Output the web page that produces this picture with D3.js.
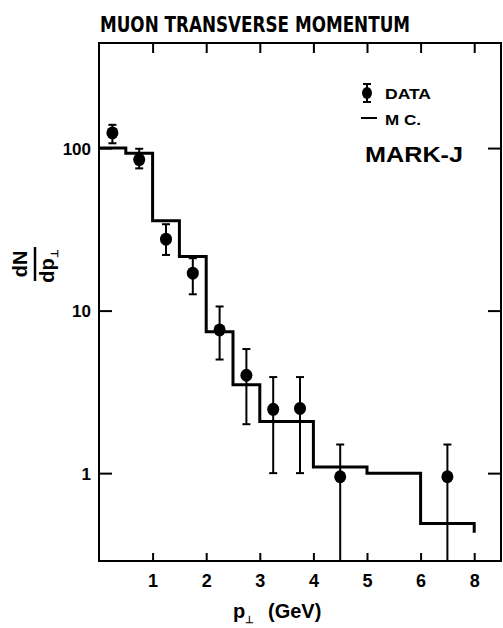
<!DOCTYPE html>
<html><head><meta charset="utf-8">
<script src="https://cdn.jsdelivr.net/npm/d3@7"></script>
<style>
html,body{margin:0;padding:0;background:#fff;}
svg{display:block;}
text{fill:#000;}
</style></head>
<body>
<script>
// ---- data (pT in GeV, real values; axis is compressed between 6 and 8) ----
const dataX    = [0.25, 0.75, 1.25, 1.75, 2.25, 2.75, 3.25, 3.75, 4.5, 7.0];
const dataY    = [124, 85, 27.5, 17, 7.6, 4.0, 2.47, 2.5, 0.95, 0.95];
const errHigh  = [139, 99, 34, 21, 10.6, 5.8, 3.9, 3.9, 1.5, 1.5];
const errLow   = [107, 75, 22, 12.6, 5.0, 2.0, 1.0, 1.0, 0, 0];   // 0 = runs to axis
const mcEdges  = [0, 0.5, 1, 1.5, 2, 2.5, 3, 4, 5, 6, 8];
const mcValues = [100, 93, 35.7, 21.5, 7.4, 3.5, 2.08, 1.09, 1.0, 0.49];
const mcTail   = 0.43;
const xTickValues = [1, 2, 3, 4, 5, 6, 8];
const xTickLabels = ["1", "2", "3", "4", "5", "6", "8"];
const yTickValues = [1, 10, 100];
const yTickLabels = ["1", "10", "100"];

const W = 503, H = 628;
const L = 99, R = 501, T = 43, B = 561;
const unit = (R - L) / 7.5;

const svg = d3.select("body").append("svg").attr("width", W).attr("height", H);

const x = d3.scaleLinear().domain([0, 6, 9]).range([L, L + 6 * unit, R]);
const y = d3.scaleLog().domain([0.288, 443]).range([B, T]);

const font = "'Liberation Sans', Arial, sans-serif";

// title
svg.append("text").attr("x", 100).attr("y", 32)
  .attr("font-family", "'DejaVu Sans Condensed','DejaVu Sans',sans-serif")
  .attr("font-weight", "bold").attr("font-size", 22)
  .attr("textLength", 310).attr("lengthAdjust", "spacingAndGlyphs")
  .text("MUON TRANSVERSE MOMENTUM");

// axes
const axB = d3.axisBottom(x).tickValues(xTickValues).tickFormat((d, i) => xTickLabels[i]).tickSize(-8).tickPadding(13);
const axT = d3.axisTop(x).tickValues(xTickValues).tickFormat("").tickSize(-10);
const axL = d3.axisLeft(y).tickValues(yTickValues).tickFormat((d, i) => yTickLabels[i]).tickSize(-13).tickPadding(8);
const axR = d3.axisRight(y).tickValues(yTickValues).tickFormat("").tickSize(-13);

function style(g) {
  g.select(".domain").remove();
  g.selectAll(".tick line").attr("stroke", "#000").attr("stroke-width", 2);
  g.selectAll(".tick text").attr("font-family", font).attr("font-weight", "bold").attr("fill", "#000");
}
svg.append("g").attr("transform", `translate(0,${B})`).call(axB).call(style)
  .selectAll(".tick text").attr("font-size", 18);
svg.append("g").attr("transform", `translate(0,${T})`).call(axT).call(style);
svg.append("g").attr("transform", `translate(${L},0)`).call(axL).call(style)
  .selectAll(".tick text").attr("font-size", 17).attr("dy", "0.36em");
svg.append("g").attr("transform", `translate(${R},0)`).call(axR).call(style);

// frame
svg.append("rect").attr("x", L).attr("y", T).attr("width", R - L).attr("height", B - T)
  .attr("fill", "none").attr("stroke", "#000").attr("stroke-width", 2);

// MC histogram
const pts = [];
mcValues.forEach((v, i) => { pts.push([x(mcEdges[i]), y(v)]); pts.push([x(mcEdges[i + 1]), y(v)]); });
pts.push([x(mcEdges[mcEdges.length - 1]), y(mcTail)]);
svg.append("path").attr("d", d3.line()(pts)).attr("fill", "none")
  .attr("stroke", "#000").attr("stroke-width", 3).attr("stroke-linejoin", "miter");

// data points
const yMin = y.domain()[0];
const g = svg.append("g");
dataX.forEach((xv, i) => {
  const cx = x(xv);
  const lo = errLow[i] > 0 ? y(errLow[i]) : y(yMin);
  const hi = y(errHigh[i]);
  g.append("line").attr("x1", cx).attr("x2", cx).attr("y1", hi).attr("y2", lo)
    .attr("stroke", "#000").attr("stroke-width", 2);
  g.append("line").attr("x1", cx - 4).attr("x2", cx + 4).attr("y1", hi).attr("y2", hi)
    .attr("stroke", "#000").attr("stroke-width", 2);
  if (errLow[i] > 0)
    g.append("line").attr("x1", cx - 4).attr("x2", cx + 4).attr("y1", lo).attr("y2", lo)
      .attr("stroke", "#000").attr("stroke-width", 2);
  g.append("ellipse").attr("cx", cx).attr("cy", y(dataY[i])).attr("rx", 6).attr("ry", 6.5).attr("fill", "#000");
});

// legend
const lg = svg.append("g");
lg.append("line").attr("x1", 367).attr("x2", 367).attr("y1", 84).attr("y2", 102).attr("stroke", "#000").attr("stroke-width", 2);
lg.append("line").attr("x1", 363).attr("x2", 371).attr("y1", 84).attr("y2", 84).attr("stroke", "#000").attr("stroke-width", 2);
lg.append("line").attr("x1", 363).attr("x2", 371).attr("y1", 102).attr("y2", 102).attr("stroke", "#000").attr("stroke-width", 2);
lg.append("ellipse").attr("cx", 367).attr("cy", 93).attr("rx", 5).attr("ry", 6).attr("fill", "#000");
lg.append("text").attr("x", 385).attr("y", 99).attr("font-family", font).attr("font-weight", "bold")
  .attr("font-size", 15).attr("textLength", 46).attr("lengthAdjust", "spacingAndGlyphs").text("DATA");
lg.append("line").attr("x1", 361).attr("x2", 377).attr("y1", 118).attr("y2", 118).attr("stroke", "#000").attr("stroke-width", 2);
lg.append("text").attr("x", 385).attr("y", 125).attr("font-family", font).attr("font-weight", "bold")
  .attr("font-size", 15).attr("textLength", 36).attr("lengthAdjust", "spacingAndGlyphs").text("M C.");
lg.append("text").attr("x", 365).attr("y", 162).attr("font-family", font).attr("font-weight", "bold")
  .attr("font-size", 22).attr("textLength", 98).attr("lengthAdjust", "spacingAndGlyphs").text("MARK-J");

// y label (rotated fraction dN / dp⊥)
const yl = svg.append("g").attr("transform", "translate(35,264) rotate(-90)");
yl.append("text").attr("x", 0).attr("y", -8).attr("text-anchor", "middle")
  .attr("font-family", font).attr("font-weight", "bold").attr("font-size", 20).text("dN");
yl.append("line").attr("x1", -17).attr("x2", 17).attr("y1", 0).attr("y2", 0).attr("stroke", "#000").attr("stroke-width", 2.5);
const den = yl.append("text").attr("x", -2).attr("y", 19).attr("text-anchor", "middle")
  .attr("font-family", font).attr("font-weight", "bold").attr("font-size", 20);
den.append("tspan").text("dp");
den.append("tspan").attr("font-size", 10).attr("dy", 4).text("⊥");

// x label
const xl = svg.append("text").attr("x", 233).attr("y", 618)
  .attr("font-family", font).attr("font-weight", "bold").attr("font-size", 20);
xl.append("tspan").text("p");
xl.append("tspan").attr("font-size", 10).attr("dy", 5).text("⊥");
xl.append("tspan").attr("dy", -5).attr("x", 268).text("(GeV)");
</script>
</body></html>
